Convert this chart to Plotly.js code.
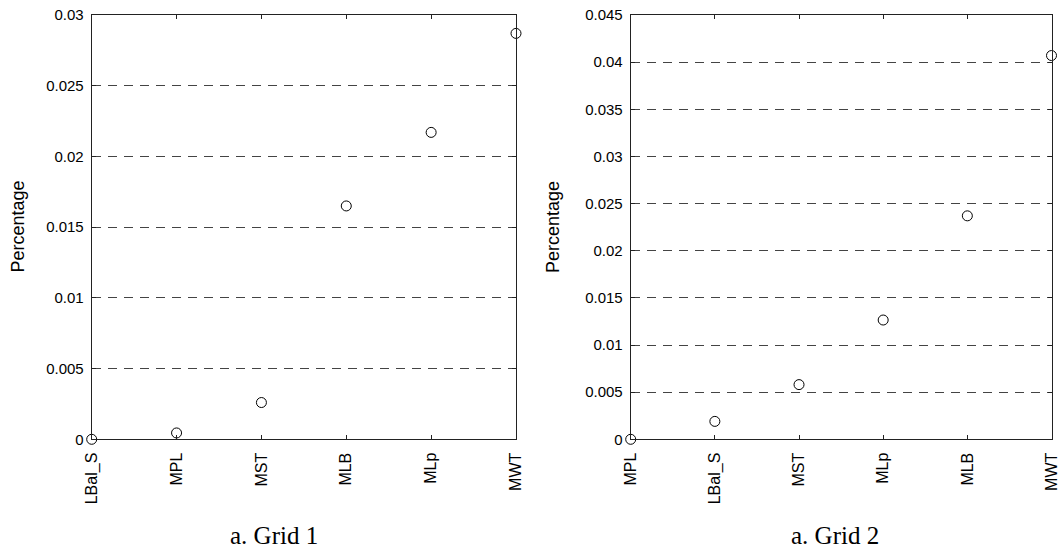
<!DOCTYPE html>
<html>
<head>
<meta charset="utf-8">
<script src="https://cdn.plot.ly/plotly-3.0.1.min.js"></script>
<style>html,body{margin:0;padding:0;background:#fff;}#chart{width:1060px;height:553px;}</style>
</head>
<body>
<div id="chart"></div>
<script>
// Grid 1
const grid1Categories = ["LBal_S", "MPL", "MST", "MLB", "MLp", "MWT"];
const grid1Values = [0, 0.00045, 0.0026, 0.0165, 0.0217, 0.0287];
const grid1TickVals = [0, 0.005, 0.01, 0.015, 0.02, 0.025, 0.03];
const grid1TickText = ["0", "0.005", "0.01", "0.015", "0.02", "0.025", "0.03"];
// Grid 2
const grid2Categories = ["MPL", "LBal_S", "MST", "MLp", "MLB", "MWT"];
const grid2Values = [0, 0.0019, 0.0058, 0.01265, 0.0237, 0.0407];
const grid2TickVals = [0, 0.005, 0.01, 0.015, 0.02, 0.025, 0.03, 0.035, 0.04, 0.045];
const grid2TickText = ["0", "0.005", "0.01", "0.015", "0.02", "0.025", "0.03", "0.035", "0.04", "0.045"];
const captions = ["a. Grid 1", "a. Grid 2"];
const yTitle = "Percentage";

const W = 1060, H = 553;
const marker = {symbol: "circle-open", size: 10, color: "#000", line: {width: 1, color: "#000"}};
const tickFont = {family: "Liberation Sans, Arial, sans-serif", size: 15, color: "#000"};
const catFont = {family: "Liberation Sans, Arial, sans-serif", size: 16, color: "#000"};

const traces = [
  {x: grid1Categories, y: grid1Values, type: "scatter", mode: "markers", marker: marker, cliponaxis: false, xaxis: "x", yaxis: "y", hoverinfo: "x+y"},
  {x: grid2Categories, y: grid2Values, type: "scatter", mode: "markers", marker: marker, cliponaxis: false, xaxis: "x2", yaxis: "y2", hoverinfo: "x+y"}
];

function xAxis(domain, cats, anchor) {
  return {
    domain: domain, anchor: anchor, type: "category", categoryorder: "array", categoryarray: cats,
    range: [0, cats.length - 1], showgrid: false, zeroline: false,
    showline: true, linecolor: "#222", linewidth: 1, mirror: "ticks",
    ticks: "inside", ticklen: 4, tickcolor: "#222", tickwidth: 1,
    tickangle: -90, tickfont: catFont, ticklabelstandoff: 6, fixedrange: true
  };
}
function yAxis(domain, vals, text, anchor) {
  return {
    domain: domain, anchor: anchor, range: [vals[0], vals[vals.length - 1]],
    tickmode: "array", tickvals: vals, ticktext: text,
    showgrid: true, gridcolor: "#444", griddash: "9px,7px", gridwidth: 1, zeroline: false,
    showline: true, linecolor: "#222", linewidth: 1, mirror: "ticks",
    ticks: "inside", ticklen: 4, tickcolor: "#222", tickwidth: 1,
    tickfont: tickFont, ticklabelstandoff: 4, fixedrange: true
  };
}

const yDom = [1 - 439.3 / H, 1 - 15 / H];
const layout = {
  width: W, height: H, margin: {l: 0, r: 0, t: 0, b: 0},
  paper_bgcolor: "#fff", plot_bgcolor: "#fff", showlegend: false,
  xaxis: xAxis([91.7 / W, 516 / W], grid1Categories, "y"),
  yaxis: yAxis(yDom, grid1TickVals, grid1TickText, "x"),
  xaxis2: xAxis([630.7 / W, 1051.5 / W], grid2Categories, "y2"),
  yaxis2: yAxis(yDom, grid2TickVals, grid2TickText, "x2"),
  annotations: [
    {text: yTitle, xref: "paper", yref: "paper", x: 17.5 / W, y: 1 - 227 / H, xanchor: "center", yanchor: "middle", textangle: -90, showarrow: false, font: {family: "Liberation Sans, Arial, sans-serif", size: 18, color: "#000"}},
    {text: yTitle, xref: "paper", yref: "paper", x: 553 / W, y: 1 - 227 / H, xanchor: "center", yanchor: "middle", textangle: -90, showarrow: false, font: {family: "Liberation Sans, Arial, sans-serif", size: 18, color: "#000"}},
    {text: captions[0], xref: "paper", yref: "paper", x: 274 / W, y: 1 - 535 / H, xanchor: "center", yanchor: "middle", showarrow: false, font: {family: "Liberation Serif, Times New Roman, serif", size: 25, color: "#000"}},
    {text: captions[1], xref: "paper", yref: "paper", x: 835 / W, y: 1 - 535 / H, xanchor: "center", yanchor: "middle", showarrow: false, font: {family: "Liberation Serif, Times New Roman, serif", size: 25, color: "#000"}}
  ]
};

Plotly.newPlot("chart", traces, layout, {displayModeBar: false, staticPlot: true});
</script>
</body>
</html>
